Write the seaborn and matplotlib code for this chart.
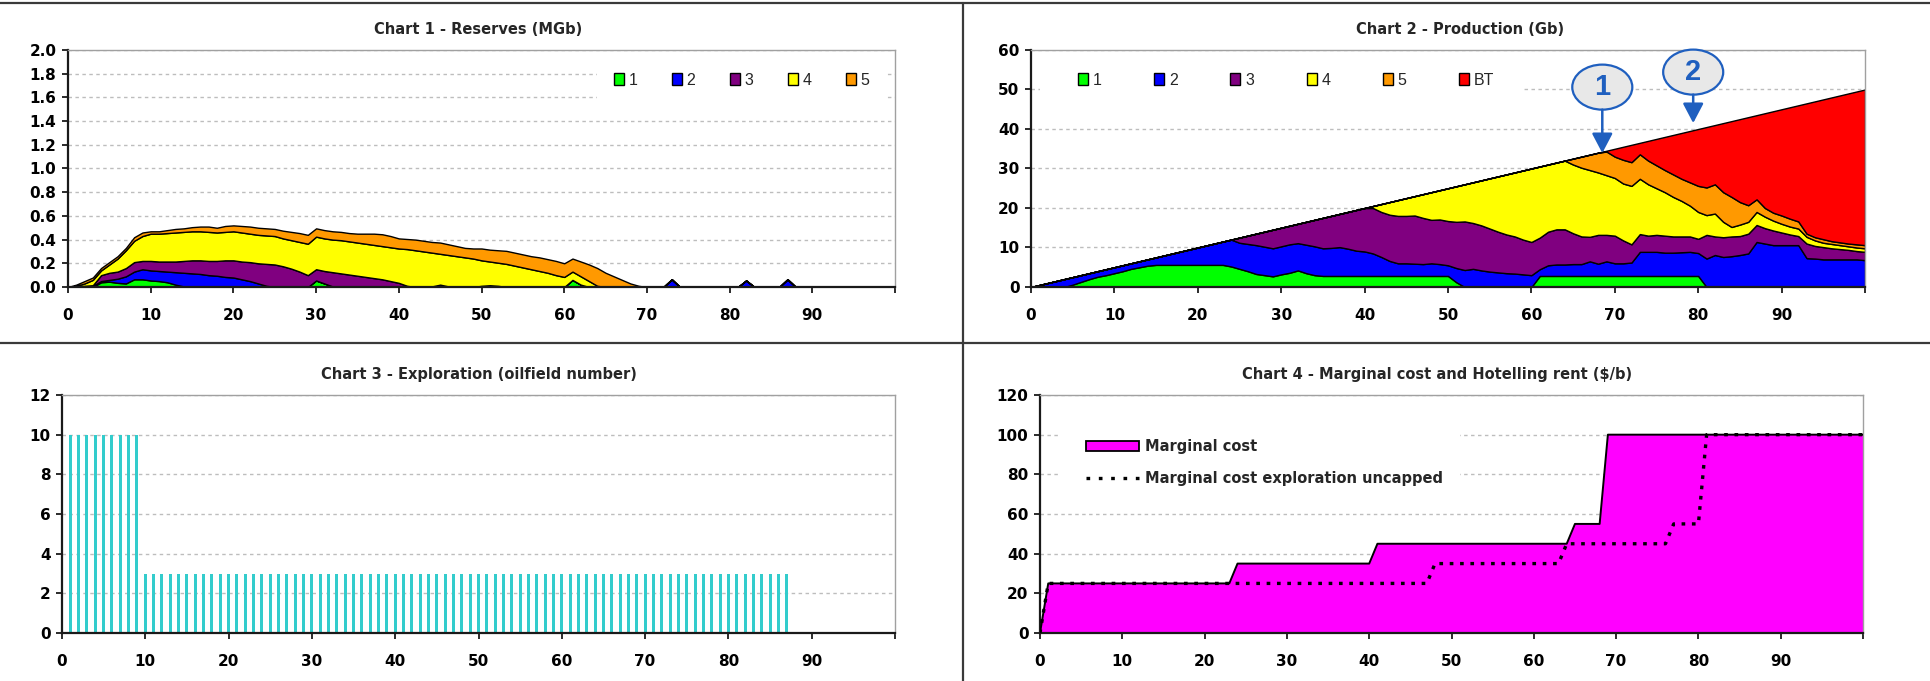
import numpy as np
import pandas as pd
import matplotlib
matplotlib.use("Agg")
import matplotlib.pyplot as plt
import seaborn as sns
from matplotlib.patches import Ellipse, Patch, Rectangle
from matplotlib.lines import Line2D

# ---------------------------------------------------------------- data
years = list(range(0, 101))

# Chart 1 - reserves: top of each stacked band
res_top_1 = [0, 0, 0, 0, 0.04, 0.045, 0.035, 0.03, 0.065, 0.065,
             0.055, 0.05, 0.04, 0.02, 0.005, 0, 0, 0, 0, 0,
             0, 0, 0, 0, 0, 0, 0, 0, 0, 0,
             0.055, 0.03, 0.005, 0, 0, 0, 0, 0, 0, 0,
             0, 0, 0, 0, 0, 0, 0, 0, 0, 0,
             0, 0, 0, 0, 0, 0, 0, 0, 0, 0,
             0, 0.06, 0.02, 0, 0, 0, 0, 0, 0, 0,
             0, 0, 0, 0, 0, 0, 0, 0, 0, 0,
             0, 0, 0, 0, 0, 0, 0, 0, 0, 0,
             0, 0, 0, 0, 0, 0, 0, 0, 0, 0, 0]
res_top_2 = [0, 0.005, 0.01, 0.01, 0.05, 0.06, 0.07, 0.09, 0.13, 0.15,
             0.14, 0.135, 0.13, 0.125, 0.12, 0.115, 0.11, 0.10, 0.095, 0.085,
             0.08, 0.065, 0.05, 0.03, 0.01, 0, 0, 0, 0, 0,
             0.055, 0.03, 0.005, 0, 0, 0, 0, 0, 0, 0,
             0, 0, 0, 0, 0, 0, 0, 0, 0, 0,
             0, 0, 0, 0, 0, 0, 0, 0, 0, 0,
             0, 0.06, 0.02, 0, 0, 0, 0, 0, 0, 0,
             0, 0, 0, 0.065, 0, 0, 0, 0, 0, 0,
             0, 0, 0.055, 0, 0, 0, 0, 0.065, 0, 0,
             0, 0, 0, 0, 0, 0, 0, 0, 0, 0, 0]
res_top_3 = [0, 0.005, 0.01, 0.015, 0.10, 0.12, 0.13, 0.16, 0.21, 0.22,
             0.22, 0.215, 0.215, 0.215, 0.22, 0.225, 0.225, 0.22, 0.22, 0.225,
             0.225, 0.215, 0.21, 0.20, 0.195, 0.19, 0.175, 0.155, 0.13, 0.10,
             0.15, 0.135, 0.125, 0.115, 0.105, 0.095, 0.085, 0.075, 0.065, 0.05,
             0.035, 0.01, 0, 0, 0.005, 0.02, 0.005, 0, 0, 0,
             0.01, 0.015, 0.01, 0, 0, 0, 0, 0, 0, 0,
             0, 0.06, 0.02, 0, 0, 0, 0, 0, 0, 0,
             0, 0, 0, 0.065, 0, 0, 0, 0, 0, 0,
             0, 0, 0.055, 0, 0, 0, 0, 0.065, 0, 0,
             0, 0, 0, 0, 0, 0, 0, 0, 0, 0, 0]
res_top_4 = [0, 0.01, 0.03, 0.06, 0.14, 0.19, 0.24, 0.31, 0.39, 0.43,
             0.45, 0.45, 0.455, 0.46, 0.465, 0.47, 0.47, 0.465, 0.46, 0.465,
             0.47, 0.46, 0.45, 0.44, 0.435, 0.43, 0.41, 0.395, 0.38, 0.365,
             0.425, 0.41, 0.40, 0.395, 0.385, 0.375, 0.365, 0.355, 0.345, 0.335,
             0.325, 0.32, 0.31, 0.30, 0.29, 0.28, 0.27, 0.26, 0.25, 0.24,
             0.225, 0.215, 0.205, 0.195, 0.18, 0.165, 0.15, 0.135, 0.12, 0.10,
             0.085, 0.13, 0.09, 0.05, 0.01, 0, 0, 0, 0, 0,
             0, 0, 0, 0.065, 0, 0, 0, 0, 0, 0,
             0, 0, 0.055, 0, 0, 0, 0, 0.065, 0, 0,
             0, 0, 0, 0, 0, 0, 0, 0, 0, 0, 0]
res_top_5 = [0, 0.02, 0.05, 0.08, 0.16, 0.21, 0.26, 0.33, 0.42, 0.46,
             0.47, 0.47, 0.48, 0.49, 0.495, 0.505, 0.51, 0.51, 0.50, 0.515,
             0.52, 0.515, 0.51, 0.50, 0.495, 0.49, 0.475, 0.465, 0.455, 0.44,
             0.495, 0.48, 0.47, 0.465, 0.455, 0.45, 0.45, 0.45, 0.445, 0.43,
             0.41, 0.405, 0.40, 0.39, 0.38, 0.375, 0.36, 0.345, 0.33, 0.325,
             0.325, 0.315, 0.31, 0.305, 0.29, 0.275, 0.26, 0.25, 0.235, 0.22,
             0.20, 0.24, 0.215, 0.19, 0.16, 0.12, 0.09, 0.06, 0.03, 0.01,
             0, 0, 0, 0.065, 0, 0, 0, 0, 0, 0,
             0, 0, 0.055, 0, 0, 0, 0, 0.065, 0, 0,
             0, 0, 0, 0, 0, 0, 0, 0, 0, 0, 0]

# Chart 2 - production: top of each stacked band (Gb)
prod_top_1 = [0, 0, 0, 0, 0, 0.6, 1.3, 2.0, 2.6, 3.0,
              3.5, 4.0, 4.6, 5.0, 5.4, 5.6, 5.6, 5.6, 5.6, 5.6,
              5.6, 5.6, 5.6, 5.6, 5.2, 4.6, 4.0, 3.3, 3.0, 2.7,
              3.2, 3.6, 4.2, 3.5, 3.0, 2.8, 2.8, 2.8, 2.8, 2.8,
              2.8, 2.8, 2.8, 2.8, 2.8, 2.8, 2.8, 2.8, 2.8, 2.8,
              2.8, 1.2, 0, 0, 0, 0, 0, 0, 0, 0,
              0, 2.8, 2.8, 2.8, 2.8, 2.8, 2.8, 2.8, 2.8, 2.8,
              2.8, 2.8, 2.8, 2.8, 2.8, 2.8, 2.8, 2.8, 2.8, 2.8,
              2.8, 0, 0, 0, 0, 0, 0, 0, 0, 0,
              0, 0, 0, 0, 0, 0, 0, 0, 0, 0, 0]
prod_top_2 = [0, 0.5, 1, 1.5, 2, 2.5, 3, 3.5, 4, 4.5,
              5, 5.5, 6, 6.5, 7, 7.5, 8, 8.5, 9, 9.5,
              10, 10.5, 11, 11.5, 12, 11.2, 10.9, 10.6, 10.2, 9.8,
              10.3, 10.8, 11.1, 10.7, 10.3, 9.8, 9.9, 10.1, 9.7, 9.2,
              9.0, 8.5, 7.6, 6.6, 6.0, 6.0, 5.9, 5.8, 6.0, 5.8,
              5.5, 4.8, 4.3, 4.6, 4.2, 3.9, 3.7, 3.5, 3.4, 3.2,
              3.0, 4.5, 5.5, 5.7, 5.7, 5.8, 5.8, 6.5, 5.9, 6.5,
              6.0, 6.0, 6.2, 8.9, 8.9, 8.9, 8.7, 8.7, 8.8, 8.9,
              8.6, 7.2, 8.1, 7.6, 7.8, 8.1, 8.5, 11.4, 11.0, 10.6,
              10.6, 10.6, 10.6, 7.3, 7.2, 7.0, 7.0, 7.0, 7.0, 7.0, 6.8]
prod_top_3 = [0, 0.5, 1, 1.5, 2, 2.5, 3, 3.5, 4, 4.5,
              5, 5.5, 6, 6.5, 7, 7.5, 8, 8.5, 9, 9.5,
              10, 10.5, 11, 11.5, 12, 12.5, 13, 13.5, 14, 14.5,
              15, 15.5, 16, 16.5, 17, 17.5, 18, 18.5, 19, 19.5,
              20, 20.0, 19.0, 18.3, 18.0, 18.0, 18.1, 17.5, 17.0, 17.1,
              16.7, 16.5, 16.6, 16.2, 15.6, 14.8, 14.0, 13.3, 12.8, 12.0,
              11.4, 12.5, 14.0, 14.6, 14.6, 13.6, 12.8, 12.7, 13.2, 13.2,
              13.0, 11.8, 10.8, 13.4, 13.0, 13.2, 13.0, 12.8, 12.8, 12.8,
              12.2, 13.2, 12.8, 12.6, 12.8, 12.9, 13.5, 15.7, 14.9, 14.3,
              13.8, 13.3, 12.9, 11.0, 10.4, 10.1, 9.8, 9.6, 9.4, 9.1, 8.9]
prod_top_4 = [0, 0.5, 1, 1.5, 2, 2.5, 3, 3.5, 4, 4.5,
              5, 5.5, 6, 6.5, 7, 7.5, 8, 8.5, 9, 9.5,
              10, 10.5, 11, 11.5, 12, 12.5, 13, 13.5, 14, 14.5,
              15, 15.5, 16, 16.5, 17, 17.5, 18, 18.5, 19, 19.5,
              20, 20.5, 21, 21.5, 22, 22.5, 23, 23.5, 24, 24.5,
              25, 25.5, 26, 26.5, 27, 27.5, 28, 28.5, 29, 29.5,
              30, 30.5, 31, 31.5, 32, 31.0, 30.2, 29.6, 29.0, 28.3,
              27.6, 26.2, 25.6, 27.4, 26.0, 25.0, 24.0, 22.8, 21.8, 20.6,
              19.0, 18.2, 18.6, 16.5, 15.2, 15.8, 16.5, 19.0, 17.8, 16.8,
              16.0, 15.3, 14.8, 12.7, 11.8, 11.2, 10.9, 10.6, 10.3, 10.0, 9.8]
prod_top_5 = [0, 0.5, 1, 1.5, 2, 2.5, 3, 3.5, 4, 4.5,
              5, 5.5, 6, 6.5, 7, 7.5, 8, 8.5, 9, 9.5,
              10, 10.5, 11, 11.5, 12, 12.5, 13, 13.5, 14, 14.5,
              15, 15.5, 16, 16.5, 17, 17.5, 18, 18.5, 19, 19.5,
              20, 20.5, 21, 21.5, 22, 22.5, 23, 23.5, 24, 24.5,
              25, 25.5, 26, 26.5, 27, 27.5, 28, 28.5, 29, 29.5,
              30, 30.5, 31, 31.5, 32, 32.5, 33, 33.5, 34, 34.3,
              33.0, 32.2, 31.6, 33.6, 32.0, 30.8, 29.6, 28.5, 27.4, 26.5,
              25.6, 25.2, 26.0, 24.0, 22.8, 21.5, 20.7, 22.2, 20.0, 18.8,
              18.1, 17.3, 16.6, 13.5, 12.6, 12.1, 11.6, 11.3, 11.0, 10.8, 10.6]
prod_top_bt = [0, 0.5, 1, 1.5, 2, 2.5, 3, 3.5, 4, 4.5,
               5, 5.5, 6, 6.5, 7, 7.5, 8, 8.5, 9, 9.5,
               10, 10.5, 11, 11.5, 12, 12.5, 13, 13.5, 14, 14.5,
               15, 15.5, 16, 16.5, 17, 17.5, 18, 18.5, 19, 19.5,
               20, 20.5, 21, 21.5, 22, 22.5, 23, 23.5, 24, 24.5,
               25, 25.5, 26, 26.5, 27, 27.5, 28, 28.5, 29, 29.5,
               30, 30.5, 31, 31.5, 32, 32.5, 33, 33.5, 34, 34.5,
               35, 35.5, 36, 36.5, 37, 37.5, 38, 38.5, 39, 39.5,
               40, 40.5, 41, 41.5, 42, 42.5, 43, 43.5, 44, 44.5,
               45, 45.5, 46, 46.5, 47, 47.5, 48, 48.5, 49, 49.5, 50]

# Chart 3 - exploration (oilfield number per year)
explore_years = [1, 2, 3, 4, 5, 6, 7, 8, 9, 10,
                 11, 12, 13, 14, 15, 16, 17, 18, 19, 20,
                 21, 22, 23, 24, 25, 26, 27, 28, 29, 30,
                 31, 32, 33, 34, 35, 36, 37, 38, 39, 40,
                 41, 42, 43, 44, 45, 46, 47, 48, 49, 50,
                 51, 52, 53, 54, 55, 56, 57, 58, 59, 60,
                 61, 62, 63, 64, 65, 66, 67, 68, 69, 70,
                 71, 72, 73, 74, 75, 76, 77, 78, 79, 80,
                 81, 82, 83, 84, 85, 86, 87]
explore_count = [10, 10, 10, 10, 10, 10, 10, 10, 10, 3,
                 3, 3, 3, 3, 3, 3, 3, 3, 3, 3,
                 3, 3, 3, 3, 3, 3, 3, 3, 3, 3,
                 3, 3, 3, 3, 3, 3, 3, 3, 3, 3,
                 3, 3, 3, 3, 3, 3, 3, 3, 3, 3,
                 3, 3, 3, 3, 3, 3, 3, 3, 3, 3,
                 3, 3, 3, 3, 3, 3, 3, 3, 3, 3,
                 3, 3, 3, 3, 3, 3, 3, 3, 3, 3,
                 3, 3, 3, 3, 3, 3, 3]

# Chart 4 - marginal cost ($/b), step corners
mc_x = [0, 1, 23, 24, 40, 41, 64, 65, 68, 69, 100]
mc_y = [0, 25, 25, 35, 35, 45, 45, 55, 55, 100, 100]
unc_x = [0, 1, 47, 48, 63, 64, 76, 77, 80, 81, 100]
unc_y = [0, 25, 25, 35, 35, 45, 45, 55, 55, 100, 100]

x_ticks = [0, 10, 20, 30, 40, 50, 60, 70, 80, 90, 100]
x_tick_labels = ["0", "10", "20", "30", "40", "50", "60", "70", "80", "90", ""]
c1_yticks = [0.0, 0.2, 0.4, 0.6, 0.8, 1.0, 1.2, 1.4, 1.6, 1.8, 2.0]
c2_yticks = [0, 10, 20, 30, 40, 50, 60]
c3_yticks = [0, 2, 4, 6, 8, 10, 12]
c4_yticks = [0, 20, 40, 60, 80, 100, 120]

field_labels = ["1", "2", "3", "4", "5"]
prod_labels = ["1", "2", "3", "4", "5", "BT"]
field_colors = ["#00FF00", "#0000FF", "#800080", "#FFFF00", "#FF9900"]
bt_color = "#FF0000"

titles = ["Chart 1 - Reserves (MGb)", "Chart 2 - Production (Gb)",
          "Chart 3 - Exploration (oilfield number)",
          "Chart 4 - Marginal cost and Hotelling rent ($/b)"]
mc_labels = ["Marginal cost", "Marginal cost exploration uncapped"]

# ---------------------------------------------------------------- style
sns.set_theme(style="white")
plt.rcParams["font.family"] = ["DejaVu Sans"]

W, H = 1930.0, 681.0
fig = plt.figure(figsize=(19.3, 6.81), dpi=100)
fig.patch.set_facecolor("white")


def add_ax(l, r, t, b):
    return fig.add_axes([l / W, 1 - b / H, (r - l) / W, (b - t) / H])


def style_axes(ax, yticks, fmt):
    ax.set_xlim(0, 100)
    ax.set_ylim(yticks[0], yticks[-1])
    ax.set_xticks(x_ticks)
    ax.set_xticklabels(x_tick_labels)
    ax.set_yticks(yticks)
    ax.set_yticklabels([fmt.format(v) for v in yticks])
    ax.set_xlabel("")
    ax.set_ylabel("")
    for s in ["left", "bottom"]:
        ax.spines[s].set_visible(True)
        ax.spines[s].set_color("#1a1a1a")
        ax.spines[s].set_linewidth(1.6)
    for s in ["top", "right"]:
        ax.spines[s].set_visible(True)
        ax.spines[s].set_color("#A0A0A0")
        ax.spines[s].set_linewidth(1.0)
    ax.tick_params(axis="both", which="major", direction="out", length=4.3,
                   width=1.3, color="#1a1a1a", labelsize=11,
                   bottom=True, left=True, top=False, right=False,
                   labelcolor="black")
    ax.tick_params(axis="x", pad=10.5)
    ax.tick_params(axis="y", pad=4)
    for lab in ax.get_xticklabels() + ax.get_yticklabels():
        lab.set_fontweight("bold")
    ax.yaxis.grid(True, color="#BDBDBD", linestyle=(0, (2.5, 2.5)), linewidth=1.0)
    ax.xaxis.grid(False)
    ax.set_axisbelow(True)
    ax.set_facecolor("white")


def white_box(ax, l, r, t, b):
    # legend background, given in figure pixels
    ax.add_patch(Rectangle((l / W, 1 - b / H), (r - l) / W, (b - t) / H,
                           transform=fig.transFigure, facecolor="white",
                           edgecolor="none", zorder=0.8))


# ---------------------------------------------------------------- chart 1
ax1 = add_ax(68, 895, 50, 287)
res_tops = [res_top_1, res_top_2, res_top_3, res_top_4, res_top_5]
lower = [0] * len(years)
for top, col in zip(res_tops, field_colors):
    ax1.fill_between(years, lower, top, facecolor=col, edgecolor="black",
                     linewidth=1.0, zorder=2)
    lower = top
style_axes(ax1, c1_yticks, "{:.1f}")
white_box(ax1, 597, 886, 66, 101)
h1 = [Patch(facecolor=c, edgecolor="black", linewidth=1.0) for c in field_colors]
ax1.legend(h1, field_labels, loc="center left", ncol=5,
           bbox_to_anchor=(0.643, 0.873), frameon=False,
           prop={"family": "Liberation Sans", "size": 11.5},
           handlelength=0.62, handleheight=0.85, handletextpad=0.3,
           columnspacing=2.15, borderpad=0.4)

# ---------------------------------------------------------------- chart 2
ax2 = add_ax(1031, 1865, 50, 287)
prod_tops = [prod_top_1, prod_top_2, prod_top_3, prod_top_4, prod_top_5, prod_top_bt]
prod_colors = field_colors + [bt_color]
lower = [0] * len(years)
for top, col in zip(prod_tops, prod_colors):
    ax2.fill_between(years, lower, top, facecolor=col, edgecolor="black",
                     linewidth=1.0, zorder=2)
    lower = top
style_axes(ax2, c2_yticks, "{:.0f}")
white_box(ax2, 1040, 1522, 64, 100)
h2 = [Patch(facecolor=c, edgecolor="black", linewidth=1.0) for c in prod_colors]
ax2.legend(h2, prod_labels, loc="center left", ncol=6,
           bbox_to_anchor=(0.039, 0.873), frameon=False,
           prop={"family": "Liberation Sans", "size": 11.5},
           handlelength=0.62, handleheight=0.85, handletextpad=0.3,
           columnspacing=3.3, borderpad=0.4)

call_blue = "#1F5FBF"
callouts = [("1", 68.5, 50.6, 33.9), ("2", 79.4, 54.4, 41.5)]
for txt, cx, cy, tip in callouts:
    ax2.add_patch(Ellipse((cx, cy), width=7.2, height=11.4, facecolor="#E8E8E8",
                          edgecolor=call_blue, linewidth=1.6, zorder=6, clip_on=False))
    ax2.text(cx, cy, txt, ha="center", va="center", color=call_blue,
             fontsize=21, fontweight="bold", family="Liberation Sans", zorder=7,
             clip_on=False)
    ax2.annotate("", xy=(cx, tip), xytext=(cx, cy - 5.7),
                 arrowprops=dict(arrowstyle="-|>,head_length=0.8,head_width=0.42",
                                 color=call_blue, lw=1.8, mutation_scale=15,
                                 shrinkA=0, shrinkB=0),
                 zorder=6, annotation_clip=False)

# ---------------------------------------------------------------- chart 3
ax3 = add_ax(62, 895, 395, 633)
sns.barplot(x=explore_years, y=explore_count, native_scale=True, width=0.36,
            color="#33CCCC", saturation=1, errorbar=None, linewidth=0, ax=ax3,
            zorder=2)
style_axes(ax3, c3_yticks, "{:.0f}")

# ---------------------------------------------------------------- chart 4
ax4 = add_ax(1040, 1863, 395, 633)
ax4.fill_between(mc_x, 0, mc_y, facecolor="#FF00FF", edgecolor="none", zorder=2)
sns.lineplot(x=mc_x, y=mc_y, color="black", linewidth=1.4, ax=ax4, zorder=3)
sns.lineplot(x=unc_x, y=unc_y, color="black", linewidth=2.4,
             linestyle=(0, (1.1, 2.0)), ax=ax4, zorder=4)
style_axes(ax4, c4_yticks, "{:.0f}")
white_box(ax4, 1060, 1460, 425, 500)
h4 = [Patch(facecolor="#FF00FF", edgecolor="black", linewidth=1.3),
      Line2D([], [], color="black", linewidth=2.4, linestyle=(0, (1.1, 2.6)))]
ax4.legend(h4, mc_labels, loc="center left", bbox_to_anchor=(0.042, 0.716),
           frameon=False, prop={"weight": "bold", "size": 10.5},
           handlelength=3.6, handleheight=0.75, handletextpad=0.4,
           labelspacing=1.15, borderpad=0.3)

# ---------------------------------------------------------------- titles
title_pos = [(478, 29), (1460, 29), (479, 374), (1437, 374)]
for t, (tx, ty) in zip(titles, title_pos):
    fig.text(tx / W, 1 - ty / H, t, ha="center", va="center",
             fontsize=10.5, fontweight="bold")

# ---------------------------------------------------------------- panel frame
frame_kw = dict(transform=fig.transFigure, color="#3a3a3a", linewidth=1.6)
fig.add_artist(Line2D([0, 1], [1 - 3 / H, 1 - 3 / H], **frame_kw))
fig.add_artist(Line2D([0, 1], [1 - 343 / H, 1 - 343 / H], **frame_kw))
fig.add_artist(Line2D([963 / W, 963 / W], [0, 1 - 3 / H], **frame_kw))

fig.savefig("out.png", dpi=100)
